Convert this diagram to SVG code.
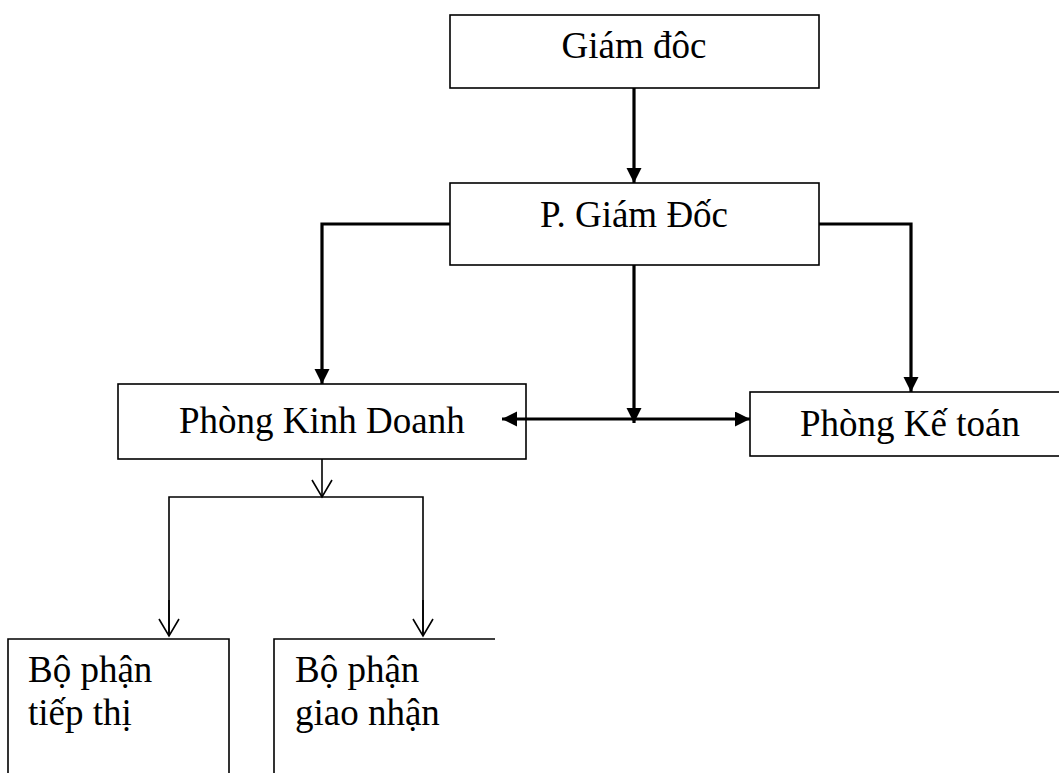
<svg xmlns="http://www.w3.org/2000/svg" width="1059" height="773" viewBox="0 0 1059 773">
  <style>
    .box { fill: #ffffff; stroke: #000000; stroke-width: 1.6; }
    .lbl { font-family: "Liberation Serif", "Times New Roman", serif; font-size: 37px; fill: #000000; }
    .mid { text-anchor: middle; }
    .thick { fill: none; stroke: #000000; stroke-width: 3.2; }
    .thin { fill: none; stroke: #000000; stroke-width: 1.6; }
  </style>
  <defs>
    <marker id="solid" markerUnits="userSpaceOnUse" markerWidth="16" markerHeight="16" viewBox="0 0 16 16" refX="15" refY="7.5" orient="auto-start-reverse">
      <path d="M0,0 L15,7.5 L0,15 z" fill="#000000"/>
    </marker>
    <marker id="open" markerUnits="userSpaceOnUse" markerWidth="22" markerHeight="24" viewBox="0 0 22 24" refX="18" refY="11" orient="auto">
      <path d="M1,1 L18,11 L1,21" fill="none" stroke="#000000" stroke-width="1.6"/>
    </marker>
  </defs>

  <g id="node-giam-doc">
    <rect class="box" x="450" y="15" width="369" height="73"/>
    <text class="lbl mid" x="634" y="58">Giám đôc</text>
  </g>

  <g id="node-pho-giam-doc">
    <rect class="box" x="450" y="183" width="369" height="82"/>
    <text class="lbl mid" x="634" y="227">P. Giám Đốc</text>
  </g>

  <g id="node-kinh-doanh">
    <rect class="box" x="118" y="384" width="408" height="75"/>
    <text class="lbl" x="179" y="433">Phòng Kinh Doanh</text>
  </g>

  <g id="node-ke-toan">
    <rect class="box" x="750" y="392" width="320" height="64"/>
    <text class="lbl" x="800" y="436">Phòng Kế toán</text>
  </g>

  <g id="node-tiep-thi">
    <path class="box" d="M8,775 V639 H229 V775"/>
    <text class="lbl" x="28" y="682">Bộ phận</text>
    <text class="lbl" x="28" y="725">tiếp thị</text>
  </g>

  <g id="node-giao-nhan">
    <path class="box" d="M274,775 V639 H495"/>
    <text class="lbl" x="295" y="682">Bộ phận</text>
    <text class="lbl" x="295" y="725">giao nhận</text>
  </g>

  <g id="connectors">
    <path class="thick" d="M634,88 V183" marker-end="url(#solid)"/>
    <path class="thick" d="M450,224 H322 V384" marker-end="url(#solid)"/>
    <path class="thick" d="M819,224 H911 V392" marker-end="url(#solid)"/>
    <path class="thick" d="M634,265 V423" marker-end="url(#solid)"/>
    <path class="thick" d="M502,419 H750" marker-start="url(#solid)" marker-end="url(#solid)"/>
    <path class="thin" d="M322,459 V497" marker-end="url(#open)"/>
    <path class="thin" d="M169,636 V497 H423 V636"/>
    <path class="thin" d="M169,600 V636" marker-end="url(#open)"/>
    <path class="thin" d="M423,600 V636" marker-end="url(#open)"/>
  </g>
</svg>
